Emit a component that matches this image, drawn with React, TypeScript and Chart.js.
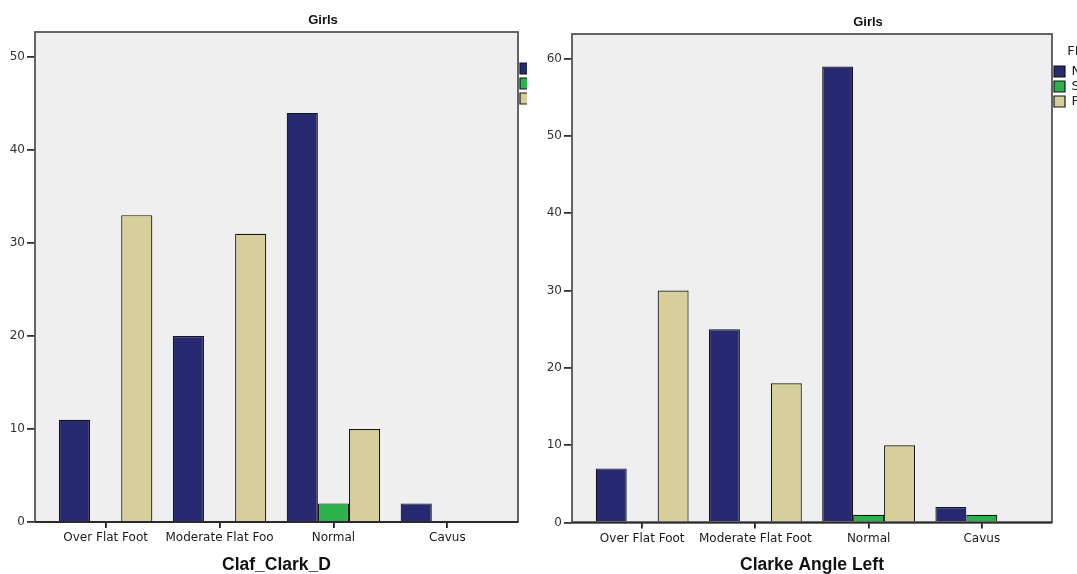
import React, { useEffect, useRef } from "react";
import { Chart, registerables } from "chart.js";

Chart.register(...registerables);

// ---- data ----
const categoriesLeft = ["Over Flat Foot", "Moderate Flat Foo", "Normal", "Cavus"];
const categoriesRight = ["Over Flat Foot", "Moderate Flat Foot", "Normal", "Cavus"];
const seriesNames = ["Normal", "Supinated", "Pronated"];
const leftNormal = [11, 20, 44, 2];
const leftSupinated = [0, 0, 2, 0];
const leftPronated = [33, 31, 10, 0];
const rightNormal = [7, 25, 59, 2];
const rightSupinated = [0, 0, 1, 1];
const rightPronated = [30, 18, 10, 0];
const yTicksLeft = [0, 10, 20, 30, 40, 50];
const yTicksRight = [0, 10, 20, 30, 40, 50, 60];
const panelTitle = "Girls";
const legendTitle = "FI";
const xTitleLeft = "Claf_Clark_D";
const xTitleRight = "Clarke Angle Left";

const seriesColors = ["#272a70", "#2bb24c", "#d6cf9c"];

const framePlugin = {
  id: "spssFrame",
  beforeDraw(chart: any) {
    const { ctx, chartArea: a } = chart;
    ctx.save();
    ctx.fillStyle = "#efefef";
    ctx.fillRect(a.left, a.top, a.right - a.left, a.bottom - a.top);
    ctx.restore();
  },
  afterDatasetsDraw(chart: any) {
    const { ctx, chartArea: a } = chart;
    ctx.save();
    ctx.strokeStyle = "#555";
    ctx.lineWidth = 1.8;
    ctx.strokeRect(a.left, a.top, a.right - a.left, a.bottom - a.top);
    ctx.strokeStyle = "#2a2a2a";
    ctx.lineWidth = 1.8;
    ctx.beginPath();
    ctx.moveTo(a.left, a.bottom);
    ctx.lineTo(a.right, a.bottom);
    ctx.stroke();
    ctx.restore();
  },
};

type PanelCfg = {
  width: number;
  categories: string[];
  series: number[][];
  yTicks: number[];
  yMax: number;
  xTitle: string;
  yAxisWidth: number;
  xAxisHeight: number;
  spacer: number;
  titleTop: number;
  titleBottom: number;
  legendTitleTop: number;
};

const leftCfg: PanelCfg = {
  width: 646,
  categories: categoriesLeft,
  series: [leftNormal, leftSupinated, leftPronated],
  yTicks: yTicksLeft,
  yMax: 52.7,
  xTitle: xTitleLeft,
  yAxisWidth: 35,
  xAxisHeight: 52,
  spacer: 86,
  titleTop: 12.5,
  titleBottom: 3.9,
  legendTitleTop: 10,
};

const rightCfg: PanelCfg = {
  width: 682,
  categories: categoriesRight,
  series: [rightNormal, rightSupinated, rightPronated],
  yTicks: yTicksRight,
  yMax: 63.2,
  xTitle: xTitleRight,
  yAxisWidth: 45,
  xAxisHeight: 51.5,
  spacer: 115,
  titleTop: 14.5,
  titleBottom: 3.9,
  legendTitleTop: 11,
};

function buildConfig(p: PanelCfg): any {
  const tickFont = { family: "DejaVu Sans", size: 12 };
  return {
    type: "bar",
    data: {
      datasets: seriesNames.map((name, k) => ({
        label: name,
        data: p.categories.map((_, i) => ({ x: i, y: p.series[k][i] })),
        backgroundColor: seriesColors[k],
        borderColor: "#151515",
        borderWidth: 1.2,
        xAxisID: "x",
        yAxisID: "y",
        categoryPercentage: 0.82,
        barPercentage: 1,
      })),
    },
    options: {
      responsive: false,
      animation: false,
      devicePixelRatio: 1,
      layout: { padding: 0 },
      plugins: {
        title: {
          display: true,
          text: panelTitle,
          color: "#111",
          font: { family: "Liberation Sans", size: 13, weight: "bold" },
          padding: { top: p.titleTop, bottom: p.titleBottom },
        },
        legend: {
          display: true,
          position: "right",
          align: "start",
          fullSize: false,
          maxWidth: 42,
          title: {
            display: true,
            text: legendTitle,
            position: "center",
            color: "#222",
            font: { family: "DejaVu Sans", size: 13 },
            padding: { top: p.legendTitleTop, bottom: 2.4 },
          },
          labels: {
            boxWidth: 11,
            boxHeight: 11,
            padding: 2,
            color: "#222",
            font: { family: "DejaVu Sans", size: 13 },
          },
        },
        tooltip: { enabled: false },
      },
      scales: {
        x: {
          type: "linear",
          min: -0.62,
          max: 3.62,
          offset: false,
          afterBuildTicks: (s: any) => {
            s.ticks = p.categories.map((_, i) => ({ value: i }));
          },
          ticks: {
            callback: (_v: any, i: number) => p.categories[i],
            autoSkip: false,
            maxRotation: 0,
            padding: 3,
            color: "#1a1a1a",
            font: tickFont,
          },
          grid: {
            display: true,
            offset: false,
            drawOnChartArea: false,
            drawTicks: true,
            tickLength: 6,
            color: "#222",
            lineWidth: 1.8,
          },
          border: { display: false },
          title: {
            display: true,
            text: p.xTitle,
            color: "#111",
            font: { family: "Liberation Sans", size: 17.5, weight: "bold", lineHeight: 1 },
            padding: { top: 0, bottom: 0 },
          },
          afterFit: (s: any) => {
            s.height = p.xAxisHeight;
          },
        },
        y: {
          type: "linear",
          min: 0,
          max: p.yMax,
          afterBuildTicks: (s: any) => {
            s.ticks = p.yTicks.map((v) => ({ value: v }));
          },
          ticks: { padding: 2, color: "#333", font: tickFont },
          grid: {
            display: true,
            drawOnChartArea: false,
            drawTicks: true,
            tickLength: 8,
            color: "#333",
            lineWidth: 1.8,
          },
          border: { display: false },
          afterFit: (s: any) => {
            s.width = p.yAxisWidth;
          },
        },
        spacer: {
          type: "linear",
          position: "right",
          weight: 2000,
          display: true,
          ticks: { display: false },
          grid: { display: false },
          border: { display: false },
          afterFit: (s: any) => {
            s.width = p.spacer;
          },
        },
      },
    },
    plugins: [framePlugin],
  };
}

function BarPanel({ cfg }: { cfg: PanelCfg }) {
  const ref = useRef<HTMLCanvasElement>(null);
  useEffect(() => {
    if (!ref.current) return;
    const chart = new Chart(ref.current, buildConfig(cfg));
    return () => chart.destroy();
  }, [cfg]);
  return (
    <canvas
      ref={ref}
      width={cfg.width}
      height={574}
      style={{ display: "block", width: cfg.width, height: 574 }}
    />
  );
}

export default function App() {
  return (
    <div
      style={{
        position: "fixed",
        left: 0,
        top: 0,
        width: 1077,
        height: 574,
        overflow: "hidden",
        background: "#fff",
      }}
    >
      <div style={{ position: "absolute", left: 0, top: 0, width: 527, height: 574, overflow: "hidden" }}>
        <BarPanel cfg={leftCfg} />
      </div>
      <div
        style={{
          position: "absolute",
          left: 527,
          top: 0,
          width: 550,
          height: 574,
          overflow: "hidden",
          background: "#fff",
        }}
      >
        <BarPanel cfg={rightCfg} />
      </div>
    </div>
  );
}
